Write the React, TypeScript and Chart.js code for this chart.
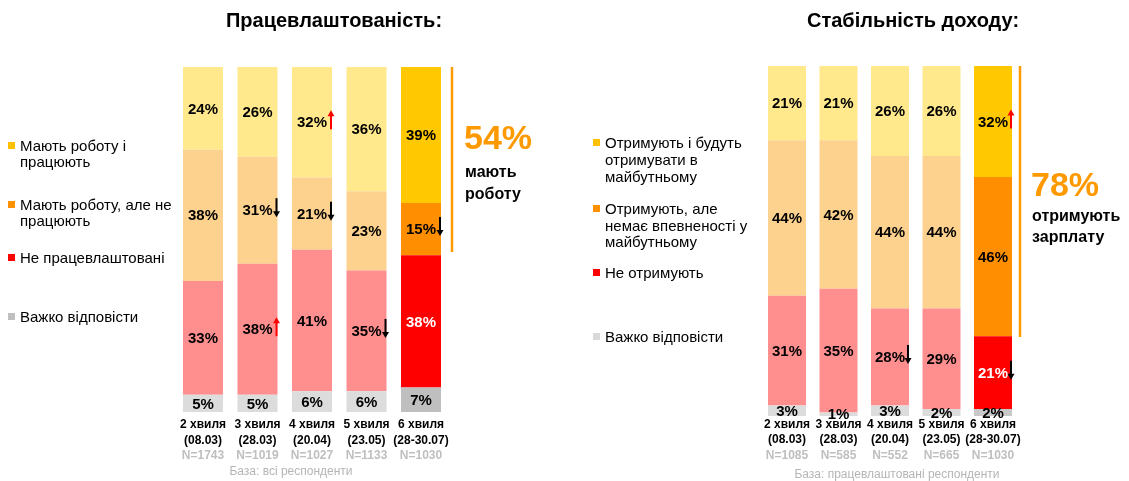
import React, { useEffect, useRef } from "react";
import { Chart, registerables } from "chart.js";

Chart.register(...registerables);

// ---------- DATA ----------
const waves = ["2 хвиля", "3 хвиля", "4 хвиля", "5 хвиля", "6 хвиля"];
const waveDates = ["(08.03)", "(28.03)", "(20.04)", "(23.05)", "(28-30.07)"];

const leftTitle = "Працевлаштованість:";
const leftN = ["N=1743", "N=1019", "N=1027", "N=1133", "N=1030"];
const leftSeriesNames = [
  "Мають роботу і працюють",
  "Мають роботу, але не працюють",
  "Не працевлаштовані",
  "Важко відповісти",
];
const leftWorking = [24, 26, 32, 36, 39];
const leftNotWorking = [38, 31, 21, 23, 15];
const leftUnemployed = [33, 38, 41, 35, 38];
const leftHard = [5, 5, 6, 6, 7];
const leftBase = "База: всі респонденти";
const leftTotal = "54%";
const leftTotalText = ["мають", "роботу"];

const rightTitle = "Стабільність доходу:";
const rightN = ["N=1085", "N=585", "N=552", "N=665", "N=1030"];
const rightSeriesNames = [
  "Отримують і будуть отримувати в майбутньому",
  "Отримують, але немає впевненості у майбутньому",
  "Не отримують",
  "Важко відповісти",
];
const rightSure = [21, 21, 26, 26, 32];
const rightUnsure = [44, 42, 44, 44, 46];
const rightNot = [31, 35, 28, 29, 21];
const rightHard = [3, 1, 3, 2, 2];
const rightBase = "База: працевлаштовані респонденти";
const rightTotal = "78%";
const rightTotalText = ["отримують", "зарплату"];

// significance arrows: [series index (0=top series), wave index, direction]
const leftArrows: [number, number, string][] = [
  [1, 1, "down"],
  [2, 1, "up"],
  [0, 2, "up"],
  [1, 2, "down"],
  [2, 3, "down"],
  [1, 4, "down"],
];
const rightArrows: [number, number, string][] = [
  [2, 2, "down"],
  [0, 4, "up"],
  [2, 4, "down"],
];

// ---------- STYLE ----------
const FONT = "'Liberation Sans', Arial, Helvetica, sans-serif";
const ORANGE_TEXT = "#FF9900";
const lightColors = ["#FFE98C", "#FDD28E", "#FF8F8F", "#DCDCDC"];
const lastColorsLeft = ["#FFC800", "#FF8F00", "#FF0000", "#BFBFBF"];
const lastColorsRight = ["#FFC800", "#FF8F00", "#FF0000", "#C8C8C8"];
const legendColorsLeft = ["#FFC000", "#FF9000", "#FF0000", "#BFBFBF"];
const legendColorsRight = ["#FFC000", "#FF9000", "#FF0000", "#D9D9D9"];

type Spec = {
  offsetX: number;
  width: number;
  padding: { left: number; right: number; top: number; bottom: number };
  barPercentage: number;
  series: number[][]; // top -> bottom
  lastColors: string[];
  title: string;
  titleX: number;
  n: string[];
  catY: number[];
  base: string;
  baseX: number;
  baseY: number;
  legendNames: string[];
  legendColors: string[];
  legendX: number;
  legendLines: string[][];
  legendYs: number[][];
  arrows: [number, number, string][];
  lineX: number;
  lineTop: number;
  lineBottom: number;
  total: string;
  totalText: string[];
  totalX: number;
  totalY: number;
  totalTextYs: number[];
};

function drawArrow(ctx: CanvasRenderingContext2D, x: number, cy: number, dir: string) {
  const color = dir === "up" ? "#FF0000" : "#000000";
  const top = cy - 12;
  const bottom = cy + 7;
  ctx.strokeStyle = color;
  ctx.fillStyle = color;
  ctx.lineWidth = 2;
  ctx.beginPath();
  if (dir === "up") {
    ctx.moveTo(x, bottom);
    ctx.lineTo(x, top + 5);
    ctx.stroke();
    ctx.beginPath();
    ctx.moveTo(x - 3.5, top + 6);
    ctx.lineTo(x + 3.5, top + 6);
    ctx.lineTo(x, top);
    ctx.closePath();
    ctx.fill();
  } else {
    ctx.moveTo(x, top);
    ctx.lineTo(x, bottom - 5);
    ctx.stroke();
    ctx.beginPath();
    ctx.moveTo(x - 3.5, bottom - 6);
    ctx.lineTo(x + 3.5, bottom - 6);
    ctx.lineTo(x, bottom);
    ctx.closePath();
    ctx.fill();
  }
}

function makeOverlay(spec: Spec) {
  return {
    id: "overlay",
    afterDatasetsDraw(chart: any) {
      const ctx: CanvasRenderingContext2D = chart.ctx;
      const nSeries = spec.series.length;
      ctx.save();
      // bar value labels
      const centers: { x: number; cy: number; right: number }[][] = [];
      for (let s = 0; s < nSeries; s++) {
        const di = nSeries - 1 - s; // datasets are bottom -> top
        const meta = chart.getDatasetMeta(di);
        centers[s] = [];
        meta.data.forEach((bar: any, bi: number) => {
          const p = bar.getProps(["x", "y", "base", "width"], true);
          const cy = (p.y + p.base) / 2;
          centers[s][bi] = { x: p.x, cy, right: p.x + p.width / 2 };
          const last = bi === spec.series[s].length - 1;
          ctx.font = `bold 15px ${FONT}`;
          ctx.textAlign = "center";
          ctx.textBaseline = "middle";
          ctx.fillStyle = last && s === 2 ? "#FFFFFF" : "#000000";
          ctx.fillText(spec.series[s][bi] + "%", p.x, cy + 1);
        });
      }
      // arrows
      spec.arrows.forEach(([s, bi, dir]) => {
        const c = centers[s][bi];
        drawArrow(ctx, c.right - 1, c.cy, dir);
      });
      // category labels under bars
      const xs = chart.scales.x;
      waves.forEach((w, i) => {
        const x = xs.getPixelForValue(i);
        ctx.textAlign = "center";
        ctx.textBaseline = "middle";
        ctx.font = `bold 12px ${FONT}`;
        ctx.fillStyle = "#000000";
        ctx.fillText(w, x, spec.catY[0]);
        ctx.fillText(waveDates[i], x, spec.catY[1]);
        ctx.fillStyle = "#BFBFBF";
        ctx.fillText(spec.n[i], x, spec.catY[2]);
      });

      // page coordinate drawing
      ctx.translate(-spec.offsetX, 0);
      // title
      ctx.font = `bold 20px ${FONT}`;
      ctx.fillStyle = "#000000";
      ctx.textAlign = "center";
      ctx.textBaseline = "middle";
      ctx.fillText(spec.title, spec.titleX, 21);
      // base note
      ctx.font = `12px ${FONT}`;
      ctx.fillStyle = "#B5B5B5";
      ctx.fillText(spec.base, spec.baseX, spec.baseY);
      // legend
      ctx.textAlign = "left";
      ctx.font = `15px ${FONT}`;
      spec.legendLines.forEach((lines, i) => {
        const ys = spec.legendYs[i];
        ctx.fillStyle = spec.legendColors[i];
        ctx.fillRect(spec.legendX - 12, ys[0] - 5, 7, 7);
        ctx.fillStyle = "#000000";
        lines.forEach((ln, k) => ctx.fillText(ln, spec.legendX, ys[k]));
      });
      // total annotation
      ctx.strokeStyle = "#FF9A00";
      ctx.lineWidth = 2.5;
      ctx.beginPath();
      ctx.moveTo(spec.lineX, spec.lineTop);
      ctx.lineTo(spec.lineX, spec.lineBottom);
      ctx.stroke();
      ctx.font = `bold 34px ${FONT}`;
      ctx.fillStyle = ORANGE_TEXT;
      ctx.fillText(spec.total, spec.totalX, spec.totalY);
      ctx.font = `bold 16px ${FONT}`;
      ctx.fillStyle = "#000000";
      spec.totalText.forEach((t, k) => ctx.fillText(t, spec.totalX + 1, spec.totalTextYs[k]));
      ctx.restore();
    },
  };
}

function ChartPanel({ spec }: { spec: Spec }) {
  const ref = useRef<HTMLCanvasElement>(null);
  useEffect(() => {
    if (!ref.current) return;
    const nSeries = spec.series.length;
    const totals = waves.map((_, i) => spec.series.reduce((a, s) => a + s[i], 0));
    const datasets = [];
    for (let s = nSeries - 1; s >= 0; s--) {
      datasets.push({
        label: spec.legendNames[s],
        data: spec.series[s].map((v, i) => (v / totals[i]) * 100),
        backgroundColor: spec.series[s].map((_, i) =>
          i === waves.length - 1 ? spec.lastColors[s] : lightColors[s]
        ),
        borderWidth: 0,
        barPercentage: spec.barPercentage,
        categoryPercentage: 1,
      });
    }
    const chart = new Chart(ref.current, {
      type: "bar",
      data: { labels: waves, datasets },
      options: {
        animation: false,
        responsive: false,
        maintainAspectRatio: false,
        layout: { padding: spec.padding },
        plugins: {
          legend: { display: false },
          tooltip: { enabled: false },
          title: { display: false },
        },
        scales: {
          x: { stacked: true, display: false },
          y: { stacked: true, display: false, min: 0, max: 100 },
        },
      },
      plugins: [makeOverlay(spec)],
    } as any);
    return () => chart.destroy();
  }, [spec]);
  return (
    <canvas
      ref={ref}
      width={spec.width}
      height={481}
      style={{ position: "absolute", left: spec.offsetX, top: 0, width: spec.width, height: 481 }}
    />
  );
}

const leftSpec: Spec = {
  offsetX: 0,
  width: 565,
  padding: { left: 175.75, right: 565 - 448.25, top: 67, bottom: 481 - 412 },
  barPercentage: 40 / 54.5,
  series: [leftWorking, leftNotWorking, leftUnemployed, leftHard],
  lastColors: lastColorsLeft,
  title: leftTitle,
  titleX: 334,
  n: leftN,
  catY: [425, 441, 456],
  base: leftBase,
  baseX: 291,
  baseY: 472,
  legendNames: leftSeriesNames,
  legendColors: legendColorsLeft,
  legendX: 20,
  legendLines: [["Мають роботу і", "працюють"], ["Мають роботу, але не", "працюють"], ["Не працевлаштовані"], ["Важко відповісти"]],
  legendYs: [[147, 163], [206, 222], [259], [318]],
  arrows: leftArrows,
  lineX: 452,
  lineTop: 67,
  lineBottom: 252,
  total: leftTotal,
  totalText: leftTotalText,
  totalX: 464,
  totalY: 140,
  totalTextYs: [173, 195],
};

const rightSpec: Spec = {
  offsetX: 565,
  width: 564,
  padding: { left: 761.25 - 565, right: 1129 - 1018.75, top: 66, bottom: 481 - 416 },
  barPercentage: 38 / 51.5,
  series: [rightSure, rightUnsure, rightNot, rightHard],
  lastColors: lastColorsRight,
  title: rightTitle,
  titleX: 913,
  n: rightN,
  catY: [425, 440, 456],
  base: rightBase,
  baseX: 897,
  baseY: 475,
  legendNames: rightSeriesNames,
  legendColors: legendColorsRight,
  legendX: 605,
  legendLines: [
    ["Отримують і будуть", "отримувати в", "майбутньому"],
    ["Отримують, але", "немає впевненості у", "майбутньому"],
    ["Не отримують"],
    ["Важко відповісти"],
  ],
  legendYs: [[144, 161, 178], [210, 227, 243], [274], [338]],
  arrows: rightArrows,
  lineX: 1020,
  lineTop: 66,
  lineBottom: 337,
  total: rightTotal,
  totalText: rightTotalText,
  totalX: 1031,
  totalY: 187,
  totalTextYs: [217, 238],
};

export default function App() {
  return (
    <div style={{ position: "absolute", left: 0, top: 0, width: 1129, height: 481, background: "#FFFFFF", overflow: "hidden" }}>
      <ChartPanel spec={leftSpec} />
      <ChartPanel spec={rightSpec} />
    </div>
  );
}
